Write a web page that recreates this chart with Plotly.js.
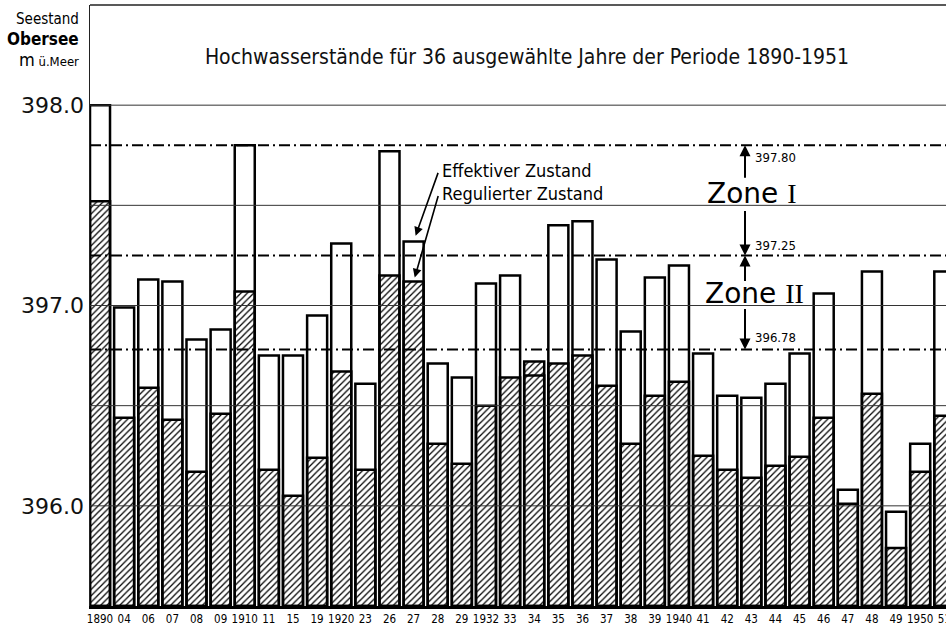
<!DOCTYPE html>
<html>
<head>
<meta charset="utf-8">
<script src="https://cdn.plot.ly/plotly-3.0.1.min.js"></script>
<style>html,body{margin:0;padding:0;background:#fff;}#chart{width:946px;height:633px;}</style>
</head>
<body>
<div id="chart"></div>
<script>
// ---- data ----
const years = ['1890','04','06','07','08','09','1910','11','15','19','1920','23','26','27','28','29','1932','33','34','35','36','37','38','39','1940','41','42','43','44','45','46','47','48','49','1950','51'];
const effective = [398.00,396.99,397.13,397.12,396.83,396.88,397.80,396.75,396.75,396.95,397.31,396.61,397.77,397.32,396.71,396.64,397.11,397.15,396.65,397.40,397.42,397.23,396.87,397.14,397.20,396.76,396.55,396.54,396.61,396.76,397.06,396.08,397.17,395.97,396.31,397.17];
const regulated = [397.52,396.44,396.59,396.43,396.17,396.46,397.07,396.18,396.05,396.24,396.67,396.18,397.15,397.12,396.31,396.21,396.50,396.64,396.72,396.71,396.75,396.60,396.31,396.55,396.62,396.25,396.18,396.14,396.20,396.245,396.44,396.01,396.56,395.79,396.17,396.45];
const zoneLevels = [397.80, 397.25, 396.78];
const gridLevels = [396.0, 396.5, 397.0, 397.5, 398.0];
const yTickVals = [396.0, 397.0, 398.0];
const yTickText = ['396.0', '397.0', '398.0'];
const baseLevel = 395.5;
const topLevel = 398.5;

const COND = 'DejaVu Sans Condensed, DejaVu Sans, sans-serif';
const SANS = 'DejaVu Sans, sans-serif';

// plot area in px (for placing text)
const L = 90, R = 946, T = 5, B = 606;
const px = x => (x - L) / (R - L);
const py = y => (B - y) / (B - T);

const traces = [
  {
    type: 'bar', x: years, y: effective.map(v => v - baseLevel), base: baseLevel,
    marker: {color: '#ffffff', line: {color: '#000', width: 2.5}},
    hoverinfo: 'skip', showlegend: false
  },
  {
    type: 'bar', x: years, y: regulated.map(v => v - baseLevel), base: baseLevel,
    marker: {color: '#000', line: {color: '#000', width: 2.5},
      pattern: {shape: '/', size: 4.5, solidity: 0.28, fillmode: 'replace'}},
    hoverinfo: 'skip', showlegend: false
  }
];

const shapes = [];
gridLevels.forEach(v => shapes.push({type: 'line', xref: 'paper', x0: 0, x1: 1, yref: 'y', y0: v, y1: v,
  line: {color: '#333', width: 1}, layer: 'above'}));
zoneLevels.forEach(v => shapes.push({type: 'line', xref: 'paper', x0: 0, x1: 1, yref: 'y', y0: v, y1: v,
  line: {color: '#000', width: 2, dash: '11px,4px,2px,4px'}, layer: 'above'}));
// top frame
shapes.push({type: 'line', xref: 'paper', x0: 0, x1: 1, yref: 'paper', y0: 1, y1: 1, line: {color: '#222', width: 1.5}});

const ann = [];
// top-left axis caption
ann.push({xref: 'paper', yref: 'paper', x: px(81), y: py(19), xanchor: 'right', yanchor: 'middle', showarrow: false,
  text: 'Seestand', font: {family: COND, size: 15, color: '#000'}});
ann.push({xref: 'paper', yref: 'paper', x: px(81), y: py(39), xanchor: 'right', yanchor: 'middle', showarrow: false,
  text: '<b>Obersee</b>', font: {family: COND, size: 17, color: '#000'}});
ann.push({xref: 'paper', yref: 'paper', x: px(81), y: py(59), xanchor: 'right', yanchor: 'middle', showarrow: false,
  text: '<span style="font-size:18px">m</span> ü.Meer', font: {family: COND, size: 13, color: '#000'}});

// zone arrows
const arrowX = px(745);
const arr = (yv, ay) => ({xref: 'paper', yref: 'y', x: arrowX, y: yv, ax: 0, ay: ay, axref: 'pixel', ayref: 'pixel',
  text: '', showarrow: true, arrowhead: 2, arrowsize: 1.1, arrowwidth: 2, arrowcolor: '#000', standoff: 0});
ann.push(arr(zoneLevels[0], 34));
ann.push(arr(zoneLevels[1], -46));
ann.push(arr(zoneLevels[1], 27));
ann.push(arr(zoneLevels[2], -42));
// zone level labels
const lvlLab = (v, yPix) => ({xref: 'paper', yref: 'paper', x: px(753), y: py(yPix), xanchor: 'left', yanchor: 'middle',
  showarrow: false, text: v.toFixed(2), font: {family: COND, size: 13, color: '#000'}});
ann.push(lvlLab(zoneLevels[0], 157));
ann.push(lvlLab(zoneLevels[1], 245));
ann.push(lvlLab(zoneLevels[2], 337));
ann.push({xref: 'paper', yref: 'paper', x: px(752), y: py(193), xanchor: 'center', yanchor: 'middle', showarrow: false,
  text: 'Zone <span style="font-family:Liberation Serif">I</span>', font: {family: SANS, size: 28, color: '#000'}});
ann.push({xref: 'paper', yref: 'paper', x: px(754), y: py(293), xanchor: 'center', yanchor: 'middle', showarrow: false,
  text: 'Zone <span style="font-family:Liberation Serif">II</span>', font: {family: SANS, size: 28, color: '#000'}});

// legend labels with arrows to bar 27
const legIdx = years.indexOf('27');
ann.push({xref: 'paper', yref: 'paper', x: px(440), y: py(170), xanchor: 'left', yanchor: 'middle', showarrow: false,
  text: 'Effektiver Zustand', font: {family: COND, size: 18, color: '#000'}});
ann.push({xref: 'paper', yref: 'paper', x: px(440), y: py(193), xanchor: 'left', yanchor: 'middle', showarrow: false,
  text: 'Regulierter Zustand', font: {family: COND, size: 18, color: '#000'}});
ann.push({xref: 'x', yref: 'y', x: legIdx, y: effective[legIdx], ax: 25, ay: -70, axref: 'pixel', ayref: 'pixel',
  text: '', showarrow: true, arrowhead: 2, arrowsize: 1.1, arrowwidth: 1.6, arrowcolor: '#000', standoff: 6});
ann.push({xref: 'x', yref: 'y', x: legIdx, y: regulated[legIdx], ax: 25, ay: -87, axref: 'pixel', ayref: 'pixel',
  text: '', showarrow: true, arrowhead: 2, arrowsize: 1.1, arrowwidth: 1.6, arrowcolor: '#000', standoff: 4});

const layout = {
  width: 946, height: 633,
  margin: {l: L, r: 946 - R, t: T, b: 633 - B, pad: 0},
  paper_bgcolor: '#fff', plot_bgcolor: '#fff',
  barmode: 'overlay', bargap: 0.17,
  title: {text: 'Hochwasserstände für 36 ausgewählte Jahre der Periode 1890-1951',
    font: {family: COND, size: 21, color: '#111'},
    xref: 'paper', x: px(527), xanchor: 'center', yref: 'container', y: 1 - 57 / 633, yanchor: 'middle'},
  xaxis: {type: 'category', range: [-0.415, 35.07], showgrid: false, zeroline: false,
    showline: true, linecolor: '#000', linewidth: 3, ticks: '',
    tickfont: {family: COND, size: 11.5, color: '#000'}, tickangle: 0, fixedrange: true},
  yaxis: {range: [baseLevel, topLevel], tickvals: yTickVals, ticktext: yTickText, showgrid: false, zeroline: false,
    showline: true, linecolor: '#222', linewidth: 1.5, ticks: '',
    tickfont: {family: SANS, size: 22, color: '#111'}, fixedrange: true},
  shapes: shapes,
  annotations: ann,
  showlegend: false
};

Plotly.newPlot('chart', traces, layout, {staticPlot: true, displayModeBar: false});
</script>
</body>
</html>
